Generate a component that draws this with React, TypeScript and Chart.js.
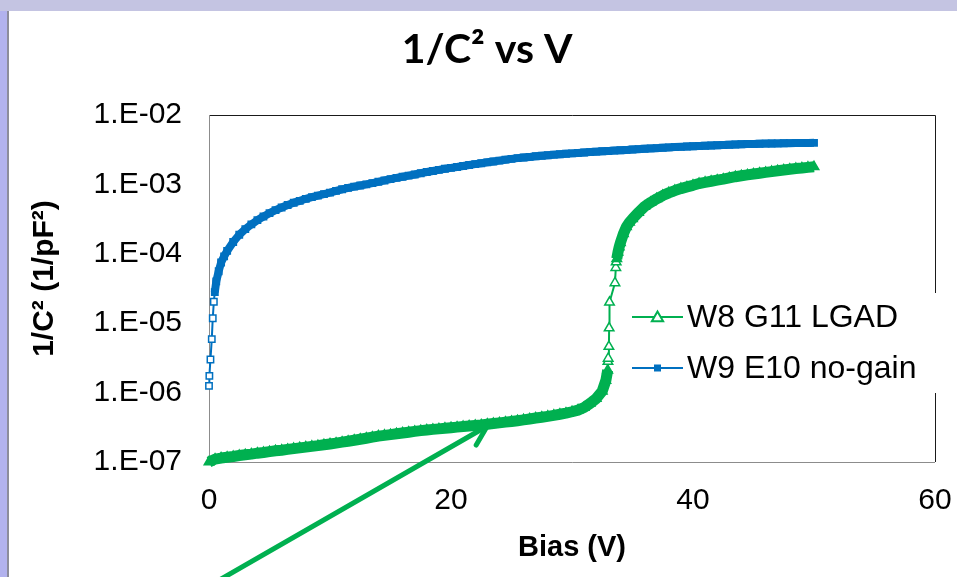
import React, { useEffect, useRef } from 'react';
import { Chart, registerables } from 'chart.js';

Chart.register(...registerables);

// ---------- text ----------
const TITLE = '1/C² vs V';
const X_TITLE = 'Bias (V)';
const Y_TITLE = '1/C² (1/pF²)';
const SERIES_NAMES = ['W8 G11 LGAD', 'W9 E10 no-gain'];

// ---------- ticks ----------
const X_TICKS = [0, 20, 40, 60];
const Y_TICKS = [1e-7, 1e-6, 1e-5, 1e-4, 1e-3, 1e-2];
const Y_TICK_LABELS = ['1.E-07', '1.E-06', '1.E-05', '1.E-04', '1.E-03', '1.E-02'];

// ---------- series: W8 G11 LGAD ----------
const LGAD_V = [
  0, 0.5, 1, 1.5, 2, 2.5, 3, 3.5, 4, 4.5,
  5, 5.5, 6, 6.5, 7, 7.5, 8, 8.5, 9, 9.5,
  10, 10.5, 11, 11.5, 12, 12.5, 13, 13.5, 14, 14.5,
  15, 15.5, 16, 16.5, 17, 17.5, 18, 18.5, 19, 19.5,
  20, 20.5, 21, 21.5, 22, 22.5, 23, 23.5, 24, 24.5,
  25, 25.5, 26, 26.5, 27, 27.5, 28, 28.5, 29, 29.5,
  30, 30.5, 31, 31.5, 32, 32.5, 32.8, 32.95, 32.97, 32.99,
  33.05, 33.07, 33.1, 33.55, 33.62, 33.65, 33.7, 33.8, 33.9, 34,
  34.25, 34.5, 34.75, 35, 35.5, 36, 36.5, 37, 37.5, 38,
  38.5, 39, 39.5, 40, 40.5, 41, 41.5, 42, 42.5, 43,
  43.5, 44, 44.5, 45, 45.5, 46, 46.5, 47, 47.5, 48,
  48.5, 49, 49.5, 50,
];
const LGAD_C = [
  1.0e-7, 1.1e-7, 1.14e-7, 1.17e-7, 1.2e-7, 1.24e-7, 1.27e-7, 1.3e-7, 1.34e-7, 1.37e-7,
  1.41e-7, 1.45e-7, 1.48e-7, 1.52e-7, 1.56e-7, 1.6e-7, 1.64e-7, 1.68e-7, 1.72e-7, 1.77e-7,
  1.82e-7, 1.87e-7, 1.93e-7, 1.99e-7, 2.06e-7, 2.13e-7, 2.2e-7, 2.28e-7, 2.36e-7, 2.42e-7,
  2.48e-7, 2.55e-7, 2.62e-7, 2.69e-7, 2.76e-7, 2.83e-7, 2.89e-7, 2.95e-7, 3.0e-7, 3.06e-7,
  3.12e-7, 3.18e-7, 3.24e-7, 3.3e-7, 3.36e-7, 3.42e-7, 3.5e-7, 3.58e-7, 3.66e-7, 3.75e-7,
  3.84e-7, 3.94e-7, 4.05e-7, 4.17e-7, 4.3e-7, 4.42e-7, 4.55e-7, 4.7e-7, 4.87e-7, 5.06e-7,
  5.3e-7, 5.6e-7, 6.1e-7, 7.0e-7, 8.2e-7, 1.05e-6, 1.5e-6, 2.1e-6, 2.8e-6, 3.1e-6,
  4.6e-6, 8.5e-6, 2.0e-5, 3.8e-5, 6.3e-5, 7.6e-5, 8.5e-5, 1.05e-4, 1.25e-4, 1.44e-4,
  1.95e-4, 2.45e-4, 2.85e-4, 3.2e-4, 3.95e-4, 4.8e-4, 5.5e-4, 6.2e-4, 6.9e-4, 7.55e-4,
  8.15e-4, 8.7e-4, 9.2e-4, 9.7e-4, 1.03e-3, 1.07e-3, 1.11e-3, 1.15e-3, 1.19e-3, 1.24e-3,
  1.29e-3, 1.33e-3, 1.37e-3, 1.41e-3, 1.45e-3, 1.49e-3, 1.53e-3, 1.57e-3, 1.61e-3, 1.65e-3,
  1.69e-3, 1.72e-3, 1.76e-3, 1.79e-3,
];

// ---------- series: W9 E10 no-gain ----------
const NOGAIN_V = [
  0, 0.03, 0.12, 0.23, 0.31, 0.4, 0.48, 0.6, 0.8, 1,
  1.25, 1.5, 2, 2.5, 3, 3.5, 4, 4.5, 5, 5.5, 6,
  6.5, 7, 7.5, 8, 8.5, 9, 9.5, 10, 10.5, 11,
  11.5, 12, 12.5, 13, 13.5, 14, 14.5, 15, 15.5, 16,
  16.5, 17, 17.5, 18, 18.5, 19, 19.5, 20, 20.5, 21,
  21.5, 22, 22.5, 23, 23.5, 24, 24.5, 25, 25.5, 26,
  26.5, 27, 27.5, 28, 28.5, 29, 29.5, 30, 30.5, 31,
  31.5, 32, 32.5, 33, 33.5, 34, 34.5, 35, 35.5, 36,
  36.5, 37, 37.5, 38, 38.5, 39, 39.5, 40, 40.5, 41,
  41.5, 42, 42.5, 43, 43.5, 44, 44.5, 45, 45.5, 46,
  46.5, 47, 47.5, 48, 48.5, 49, 49.5, 50,
];
const NOGAIN_C = [
  1.25e-6, 1.74e-6, 3.0e-6, 5.9e-6, 1.18e-5, 2.04e-5, 2.8e-5, 4.0e-5, 5.6e-5, 7.5e-5,
  9.2e-5, 1.1e-4, 1.48e-4, 1.88e-4, 2.27e-4, 2.65e-4, 3.05e-4, 3.45e-4, 3.85e-4, 4.25e-4, 4.65e-4,
  5.05e-4, 5.45e-4, 5.8e-4, 6.2e-4, 6.55e-4, 6.9e-4, 7.25e-4, 7.6e-4, 8.05e-4, 8.5e-4,
  8.9e-4, 9.3e-4, 9.65e-4, 1.0e-3, 1.045e-3, 1.09e-3, 1.14e-3, 1.19e-3, 1.24e-3, 1.29e-3,
  1.34e-3, 1.39e-3, 1.45e-3, 1.51e-3, 1.56e-3, 1.62e-3, 1.68e-3, 1.73e-3, 1.78e-3, 1.84e-3,
  1.9e-3, 1.96e-3, 2.02e-3, 2.08e-3, 2.14e-3, 2.2e-3, 2.27e-3, 2.33e-3, 2.39e-3, 2.44e-3,
  2.49e-3, 2.54e-3, 2.59e-3, 2.63e-3, 2.68e-3, 2.72e-3, 2.76e-3, 2.8e-3, 2.84e-3, 2.88e-3,
  2.92e-3, 2.96e-3, 3.0e-3, 3.03e-3, 3.07e-3, 3.1e-3, 3.14e-3, 3.18e-3, 3.22e-3, 3.26e-3,
  3.3e-3, 3.33e-3, 3.37e-3, 3.41e-3, 3.45e-3, 3.48e-3, 3.52e-3, 3.55e-3, 3.58e-3, 3.61e-3,
  3.64e-3, 3.67e-3, 3.7e-3, 3.73e-3, 3.76e-3, 3.79e-3, 3.81e-3, 3.83e-3, 3.85e-3, 3.87e-3,
  3.89e-3, 3.9e-3, 3.92e-3, 3.93e-3, 3.94e-3, 3.95e-3, 3.96e-3, 3.97e-3,
];

// annotation arrow points at this (bias, 1/C²) location on the LGAD curve
const ARROW_TIP_V = 23;
const ARROW_TIP_C = 3.3e-7;

// ---------- styles ----------
const GREEN = '#00B050';
const BLUE = '#0070C0';
const SANS = '"Liberation Sans", Arial, sans-serif';
const TOP_BAND = 'rgb(196,196,226)';
const LEFT_BAND = 'rgb(178,178,238)';

// dense sweep: overlapping markers read as a solid band; sparse steps: thin line only
function isDenseStep(x0: number, y0: number, x1: number, y1: number) {
  const dx = Math.abs(x1 - x0);
  const dy = Math.abs(y1 - y0);
  return Math.sqrt(dx * dx + dy * dy) < 14 && dx >= 1;
}

function bandWidth(thick: number) {
  return (ctx: any) => (isDenseStep(ctx.p0.x, ctx.p0.y, ctx.p1.x, ctx.p1.y) ? thick : 2);
}

function markerFill(color: string) {
  return (ctx: any) => {
    const chart = ctx.chart;
    const data = ctx.dataset.data;
    const i = ctx.dataIndex;
    const sx = chart.scales.x;
    const sy = chart.scales.y;
    if (!sx || !sy || !data[i]) return color;
    const px = (k: number) => sx.getPixelForValue(data[k].x);
    const py = (k: number) => sy.getPixelForValue(data[k].y);
    const prevDense = i > 0 && isDenseStep(px(i - 1), py(i - 1), px(i), py(i));
    const nextDense = i < data.length - 1 && isDenseStep(px(i), py(i), px(i + 1), py(i + 1));
    return prevDense || nextDense ? color : '#ffffff';
  };
}

const framePlugin = {
  id: 'frame',
  beforeDatasetsDraw(chart: any) {
    const { ctx, chartArea: a } = chart;
    ctx.save();
    ctx.lineWidth = 1;
    ctx.strokeStyle = '#1a1a1a';
    ctx.beginPath();
    ctx.moveTo(a.left, a.top + 0.5);
    ctx.lineTo(a.right + 0.5, a.top + 0.5);
    ctx.lineTo(a.right + 0.5, a.bottom);
    ctx.stroke();
    ctx.strokeStyle = '#8c8c8c';
    ctx.beginPath();
    ctx.moveTo(a.left + 0.5, a.top);
    ctx.lineTo(a.left + 0.5, a.bottom + 0.5);
    ctx.lineTo(a.right, a.bottom + 0.5);
    ctx.stroke();
    ctx.restore();
  },
};

// y-axis title, drawn rotated beside the tick labels
const yTitlePlugin = {
  id: 'yTitle',
  afterDraw(chart: any) {
    const { ctx, chartArea: a } = chart;
    ctx.save();
    ctx.translate(45, (a.top + a.bottom) / 2 - 10);
    ctx.rotate(-Math.PI / 2);
    ctx.fillStyle = '#000';
    ctx.font = `bold 30px ${SANS}`;
    ctx.textAlign = 'center';
    ctx.textBaseline = 'middle';
    ctx.fillText(Y_TITLE, 0, 0);
    ctx.restore();
  },
};

function drawTriangle(ctx: any, x: number, y: number, r: number) {
  ctx.beginPath();
  for (let i = 0; i < 3; i++) {
    const ang = -Math.PI / 2 + (i * 2 * Math.PI) / 3;
    const px = x + Math.cos(ang) * r;
    const py = y + Math.sin(ang) * r;
    if (i === 0) ctx.moveTo(px, py);
    else ctx.lineTo(px, py);
  }
  ctx.closePath();
}

const legendPlugin = {
  id: 'insideLegend',
  afterDatasetsDraw(chart: any) {
    const { ctx, chartArea: a } = chart;
    ctx.save();
    ctx.fillStyle = '#ffffff';
    ctx.fillRect(a.right - 313, a.top + 178, 328, 100);
    const rows = [a.top + 202, a.top + 253];
    const x1 = a.right - 303;
    const x2 = a.right - 252;
    const xm = (x1 + x2) / 2;
    chart.data.datasets.forEach((ds: any, i: number) => {
      const y = rows[i];
      ctx.strokeStyle = ds.borderColor;
      ctx.lineWidth = 2;
      ctx.beginPath();
      ctx.moveTo(x1, y);
      ctx.lineTo(x2, y);
      ctx.stroke();
      if (ds.pointStyle === 'triangle') {
        drawTriangle(ctx, xm, y + 1, 6.5);
        ctx.fillStyle = '#ffffff';
        ctx.fill();
        ctx.lineWidth = 2;
        ctx.stroke();
      } else {
        ctx.fillStyle = ds.borderColor;
        ctx.fillRect(xm - 3.5, y - 3.5, 7, 7);
      }
      ctx.fillStyle = '#000';
      ctx.font = `32px ${SANS}`;
      ctx.textBaseline = 'middle';
      ctx.textAlign = 'left';
      ctx.fillText(ds.label, a.right - 248, y + 1);
    });
    ctx.restore();
  },
};

const arrowPlugin = {
  id: 'arrow',
  afterDraw(chart: any) {
    const { ctx, scales } = chart;
    const tx = scales.x.getPixelForValue(ARROW_TIP_V);
    const ty = scales.y.getPixelForValue(ARROW_TIP_C);
    const back = Math.atan2(0.5, -0.87);
    const len = 360;
    ctx.save();
    ctx.strokeStyle = GREEN;
    ctx.lineWidth = 5;
    ctx.lineCap = 'round';
    ctx.lineJoin = 'round';
    ctx.beginPath();
    ctx.moveTo(tx + Math.cos(back) * len, ty + Math.sin(back) * len);
    ctx.lineTo(tx, ty);
    ctx.stroke();
    ctx.beginPath();
    const b1 = back - 0.52;
    const b2 = back + 0.52;
    ctx.moveTo(tx + Math.cos(b1) * 22, ty + Math.sin(b1) * 22);
    ctx.lineTo(tx, ty);
    ctx.lineTo(tx + Math.cos(b2) * 22, ty + Math.sin(b2) * 22);
    ctx.stroke();
    ctx.restore();
  },
};

function yLabel(v: number) {
  for (let i = 0; i < Y_TICKS.length; i++) {
    if (Math.abs(Math.log10(v) - Math.log10(Y_TICKS[i])) < 1e-6) return Y_TICK_LABELS[i];
  }
  return '';
}

export default function App() {
  const ref = useRef<HTMLCanvasElement>(null);

  useEffect(() => {
    const canvas = ref.current;
    if (!canvas) return;
    const chart = new Chart(canvas, {
      type: 'line',
      data: {
        datasets: [
          {
            label: SERIES_NAMES[0],
            data: LGAD_V.map((v, i) => ({ x: v, y: LGAD_C[i] })),
            borderColor: GREEN,
            backgroundColor: GREEN,
            borderWidth: 2,
            borderJoinStyle: 'round',
            borderCapStyle: 'butt',
            segment: { borderWidth: bandWidth(11) },
            pointStyle: 'triangle',
            pointRadius: 5.5,
            pointBorderWidth: 1.5,
            pointBackgroundColor: markerFill(GREEN),
            pointBorderColor: GREEN,
            tension: 0,
            clip: false,
          },
          {
            label: SERIES_NAMES[1],
            data: NOGAIN_V.map((v, i) => ({ x: v, y: NOGAIN_C[i] })),
            borderColor: BLUE,
            backgroundColor: BLUE,
            borderWidth: 2,
            borderJoinStyle: 'round',
            borderCapStyle: 'butt',
            segment: { borderWidth: bandWidth(8) },
            pointStyle: 'rect',
            pointRadius: 4.5,
            pointBorderWidth: 1.5,
            pointBackgroundColor: markerFill(BLUE),
            pointBorderColor: BLUE,
            tension: 0,
            clip: false,
          },
        ],
      } as any,
      options: {
        animation: false,
        responsive: false,
        devicePixelRatio: 1,
        layout: { padding: { left: 19, right: 2, top: 0, bottom: 0 } },
        plugins: {
          legend: { display: false },
          tooltip: { enabled: false },
          title: {
            display: true,
            text: TITLE,
            color: '#000',
            font: { family: 'Lato, "Open Sans", sans-serif', size: 41, weight: 'bold' },
            padding: { top: 25, bottom: 40.8 },
          },
        },
        scales: {
          x: {
            type: 'linear',
            min: 0,
            max: 60,
            afterBuildTicks: (s: any) => {
              s.ticks = X_TICKS.map((v) => ({ value: v }));
            },
            afterFit: (s: any) => {
              s.height = 115;
              s.paddingRight = 22;
            },
            grid: { display: false, drawTicks: false },
            border: { display: false },
            ticks: {
              padding: 21,
              color: '#000',
              autoSkip: false,
              maxRotation: 0,
              font: { family: SANS, size: 30 },
            },
            title: {
              display: true,
              text: X_TITLE,
              color: '#000',
              font: { family: SANS, size: 29, weight: 'bold' },
              padding: { top: 0, bottom: 12 },
            },
          },
          y: {
            type: 'logarithmic',
            min: 1e-7,
            max: 1e-2,
            afterBuildTicks: (s: any) => {
              s.ticks = Y_TICKS.map((v) => ({ value: v }));
            },
            afterFit: (s: any) => {
              s.width = 190;
            },
            grid: { display: false, drawTicks: false },
            border: { display: false },
            ticks: {
              padding: 27,
              color: '#000',
              autoSkip: false,
              font: { family: SANS, size: 30 },
              callback: (v: any) => yLabel(Number(v)),
            },
            title: { display: false },
          },
        },
      } as any,
      plugins: [framePlugin, legendPlugin, yTitlePlugin, arrowPlugin],
    });
    return () => chart.destroy();
  }, []);

  return (
    <div
      style={{
        position: 'fixed',
        left: 0,
        top: 0,
        width: 957,
        height: 577,
        background: '#ffffff',
        overflow: 'hidden',
      }}
    >
      <div style={{ position: 'absolute', left: 0, top: 0, width: 957, height: 11, background: TOP_BAND }} />
      <div style={{ position: 'absolute', left: 0, top: 11, width: 7, height: 566, background: LEFT_BAND }} />
      <div style={{ position: 'absolute', left: 7, top: 11, width: 2, height: 566, background: '#8c8c9c' }} />
      <canvas
        ref={ref}
        width={957}
        height={577}
        style={{ position: 'absolute', left: 0, top: 0, width: 957, height: 577 }}
      />
    </div>
  );
}
